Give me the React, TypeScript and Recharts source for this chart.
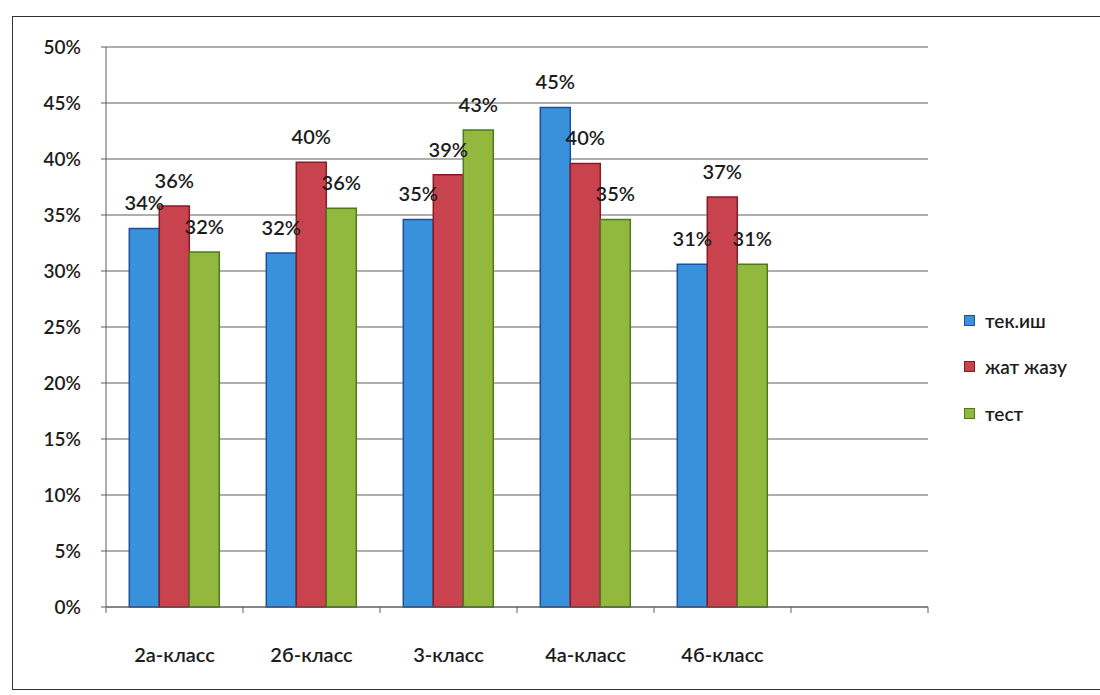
import { BarChart, Bar, XAxis, YAxis, CartesianGrid, LabelList } from "recharts"

const classes = ["2а-класс", "2б-класс", "3-класс", "4а-класс", "4б-класс", ""]
const tekIsh = [33.8, 31.6, 34.6, 44.6, 30.6, null]
const zhatZhazu = [35.8, 39.7, 38.6, 39.6, 36.6, null]
const test = [31.7, 35.6, 42.6, 34.6, 30.6, null]
const yTicks = [0, 5, 10, 15, 20, 25, 30, 35, 40, 45, 50]

const seriesNames = ["тек.иш", "жат жазу", "тест"]
const fills = ["#3891da", "#c9434f", "#92b83d"]
const strokes = ["#1d4f9c", "#861b25", "#4c7a1c"]

const data = classes.map((c, i) => ({
  name: c,
  tek: tekIsh[i],
  zhat: zhatZhazu[i],
  test: test[i],
}))
const keys = ["tek", "zhat", "test"]

const W = 1100
const H = 695
const MARGIN = { top: 47, right: 172, bottom: 0, left: 0 }
const Y_WIDTH = 106
const BAND = (W - MARGIN.left - MARGIN.right - Y_WIDTH) / classes.length
const FONT = "Lato, 'Liberation Sans', sans-serif"
const INK = "#1c1c1c"
const GRID = "#5e5e5e"

function ClassTick(props: any) {
  const { x, y, payload, index } = props
  return (
    <g>
      <line x1={x - BAND / 2} x2={x - BAND / 2} y1={y} y2={y + 6} stroke={GRID} />
      {index === classes.length - 1 && (
        <line x1={x + BAND / 2} x2={x + BAND / 2} y1={y} y2={y + 6} stroke={GRID} />
      )}
      <text x={x} y={y + 55} textAnchor="middle" fill={INK} fontSize={20} fontWeight={600} fontFamily={FONT}>
        {payload.value}
      </text>
    </g>
  )
}

function LegendBox() {
  return (
    <div style={{ position: "absolute", left: 964, top: 297, fontFamily: FONT }}>
      {seriesNames.map((n, i) => (
        <div key={n} style={{ display: "flex", alignItems: "center", height: 46.5 }}>
          <div style={{ width: 9, height: 9, background: fills[i], border: `1px solid ${strokes[i]}`, marginRight: 10 }} />
          <span style={{ fontSize: 19, fontWeight: 600, color: INK }}>{n}</span>
        </div>
      ))}
    </div>
  )
}

export default function App() {
  return (
    <div style={{ position: "absolute", left: 0, top: 0, width: W, height: H, background: "#fff", overflow: "hidden" }}>
      <div
        style={{
          position: "absolute",
          left: 12,
          top: 16,
          width: 1100,
          height: 672,
          border: "1.5px solid #333",
        }}
      />
      <div style={{ position: "absolute", left: 0, top: 0 }}>
        <BarChart width={W} height={H} data={data} margin={MARGIN} barCategoryGap="17%" barGap={0}>
          <CartesianGrid vertical={false} stroke={GRID} strokeWidth={1} />
          <XAxis
            dataKey="name"
            interval={0}
            tickSize={0}
            tickMargin={0}
            height={88}
            axisLine={{ stroke: GRID }}
            tickLine={false}
            tick={<ClassTick />}
          />
          <YAxis
            width={Y_WIDTH}
            domain={[0, 50]}
            ticks={yTicks}
            tickFormatter={(v: number) => `${v}%`}
            tickSize={5}
            tickMargin={20}
            axisLine={{ stroke: GRID }}
            tickLine={{ stroke: GRID }}
            tick={{ fill: INK, fontSize: 19, fontWeight: 600, fontFamily: FONT }}
            interval={0}
          />
          {keys.map((k, i) => (
            <Bar
              key={k}
              dataKey={k}
              name={seriesNames[i]}
              fill={fills[i]}
              stroke={strokes[i]}
              strokeWidth={1.5}
              isAnimationActive={false}
            >
              <LabelList
                dataKey={k}
                position="top"
                offset={18}
                fill={INK}
                fontSize={20}
                fontWeight={600}
                fontFamily={FONT}
                formatter={(v: any) => (v == null ? "" : `${Math.round(v)}%`)}
              />
            </Bar>
          ))}
        </BarChart>
      </div>
      <LegendBox />
    </div>
  )
}
